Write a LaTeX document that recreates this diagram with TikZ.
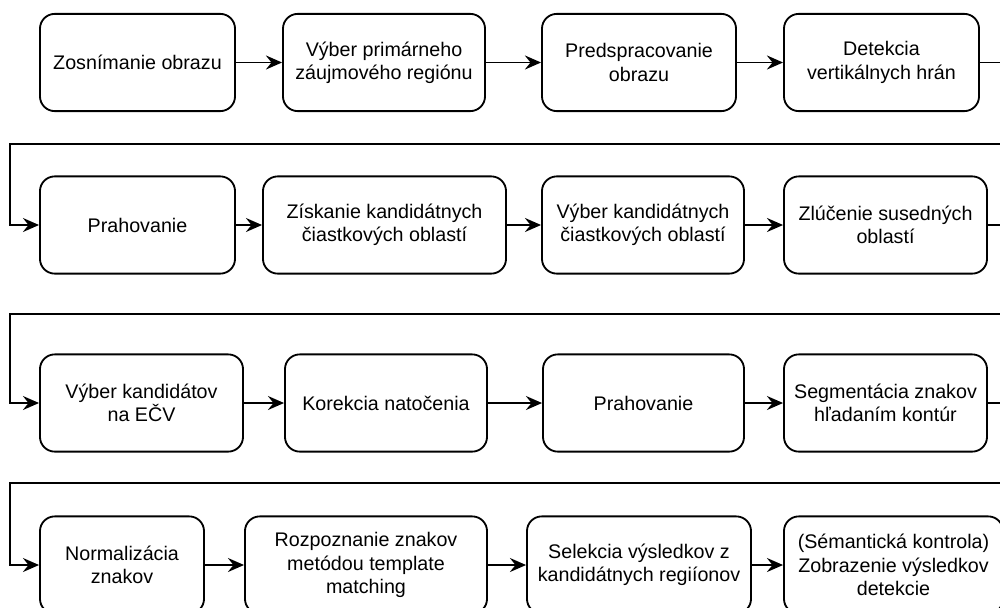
\documentclass[tikz,border=0pt]{standalone}
\usepackage{fontspec}
\setmainfont{Liberation Sans}
\usetikzlibrary{arrows.meta}

\tikzset{
  krok/.style={draw, line width=1.3pt, rounded corners=10.5pt, align=center,
    inner sep=2pt, minimum height=2.43cm, font=\fontsize{14}{16.5}\selectfont},
  tok/.style={line width=1.3pt, -{Stealth[length=11.5pt,width=10pt,inset=4pt]}}
}

\begin{document}
\begin{tikzpicture}[x=0.025cm, y=-0.025cm]
        \clip (0,0) rectangle (1000,607);
        % prvy riadok
        \node[krok, minimum width=4.875cm] (a1) at (137.5,62.5) {Zosnímanie obrazu};
        \node[krok, minimum width=5.05cm]  (a2) at (384,62.5) {Výber primárneho\\záujmového regiónu};
        \node[krok, minimum width=4.85cm]  (a3) at (639,62.5) {Predspracovanie\\obrazu};
        \node[krok, minimum width=4.875cm] (a4) at (881.5,62.5) {Detekcia\\vertikálnych hrán};
        % druhy riadok
        \node[krok, minimum width=4.875cm] (b1) at (137.5,225) {Prahovanie};
        \node[krok, minimum width=6.075cm] (b2) at (384.5,225) {Získanie kandidátnych\\čiastkových oblastí};
        \node[krok, minimum width=5.05cm]  (b3) at (643,225) {Výber kandidátnych\\čiastkových oblastí};
        \node[krok, minimum width=5.075cm] (b4) at (885.5,225) {Zlúčenie susedných\\oblastí};
        % treti riadok
        \node[krok, minimum width=5.075cm] (c1) at (141.5,403) {Výber kandidátov\\na EČV};
        \node[krok, minimum width=5.05cm]  (c2) at (386,403) {Korekcia natočenia};
        \node[krok, minimum width=5.025cm] (c3) at (643.5,403) {Prahovanie};
        \node[krok, minimum width=5.075cm] (c4) at (885.5,403) {Segmentácia znakov\\hľadaním kontúr};
        % stvrty riadok
        \node[krok, minimum width=4.1cm]   (d1) at (122,565) {Normalizácia\\znakov};
        \node[krok, minimum width=6.05cm]  (d2) at (366,565) {Rozpoznanie znakov\\metódou template\\matching};
        \node[krok, minimum width=5.6cm]   (d3) at (639,565) {Selekcia výsledkov z\\kandidátnych regiíonov};
        \node[krok, minimum width=5.475cm] (d4) at (893.5,565) {(Sémantická kontrola)\\Zobrazenie výsledkov\\detekcie};

        \coordinate (r1) at (1012,144);
        \coordinate (l1) at (10,144);
        \coordinate (r2) at (1012,314);
        \coordinate (l2) at (10,314);
        \coordinate (r3) at (1012,483);
        \coordinate (l3) at (10,483);

        \draw[tok] (a1) -- (a2);
        \draw[tok] (a2) -- (a3);
        \draw[tok] (a3) -- (a4);
        \draw[tok] (a4.east) -| (r1) -- (l1) |- (b1.west);
        \draw[tok] (b1) -- (b2);
        \draw[tok] (b2) -- (b3);
        \draw[tok] (b3) -- (b4);
        \draw[tok] (b4.east) -| (r2) -- (l2) |- (c1.west);
        \draw[tok] (c1) -- (c2);
        \draw[tok] (c2) -- (c3);
        \draw[tok] (c3) -- (c4);
        \draw[tok] (c4.east) -| (r3) -- (l3) |- (d1.west);
        \draw[tok] (d1) -- (d2);
        \draw[tok] (d2) -- (d3);
        \draw[tok] (d3) -- (d4);
      \end{tikzpicture}
\end{document}
